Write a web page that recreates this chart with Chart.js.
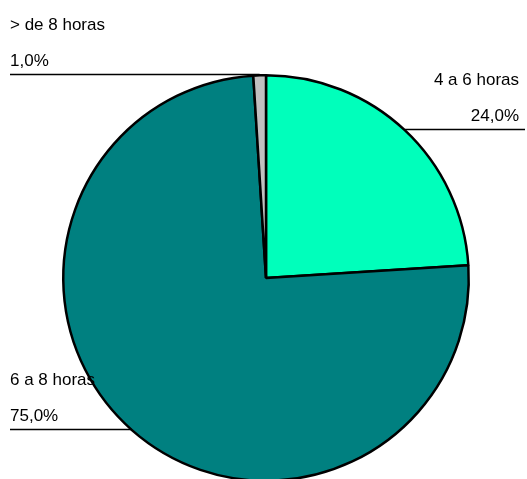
<!DOCTYPE html>
<html>
<head>
<meta charset="utf-8">
<script src="https://cdn.jsdelivr.net/npm/chart.js@4.4.1/dist/chart.umd.min.js"></script>
<style>
html,body{margin:0;padding:0;overflow:hidden;background:#fff;}
#wrap{width:527px;height:479px;overflow:hidden;}
</style>
</head>
<body>
<div id="wrap"><canvas id="c" width="527" height="490"></canvas></div>
<script>
const categories = ['4 a 6 horas', '6 a 8 horas', '> de 8 horas'];
const values = [24.0, 75.0, 1.0];
const valueLabels = ['24,0%', '75,0%', '1,0%'];
const colors = ['#00FFBB', '#008080', '#C0C0C0'];

const leaderLabels = {
  id: 'leaderLabels',
  afterDatasetsDraw(chart) {
    const ctx = chart.ctx;
    const meta = chart.getDatasetMeta(0);
    const W = chart.width;
    ctx.save();
    ctx.font = '17px "Liberation Sans", Arial, sans-serif';
    ctx.fillStyle = '#000';
    ctx.strokeStyle = '#000';
    ctx.lineWidth = 1.6;
    meta.data.forEach((arc, i) => {
      const mid = (arc.startAngle + arc.endAngle) / 2;
      const r = arc.outerRadius;
      const px = arc.x + r * Math.cos(mid);
      const py = Math.round(arc.y + r * Math.sin(mid)) - 0.5;
      const right = Math.cos(mid) >= 0;
      ctx.beginPath();
      if (right) { ctx.moveTo(px, py); ctx.lineTo(W - 2, py); }
      else { ctx.moveTo(10, py); ctx.lineTo(px, py); }
      ctx.stroke();
      ctx.textBaseline = 'alphabetic';
      ctx.textAlign = right ? 'right' : 'left';
      const tx = right ? W - 8 : 10;
      ctx.fillText(categories[i], tx, py - 45);
      ctx.fillText(valueLabels[i], tx, py - 9);
    });
    ctx.restore();
  }
};

new Chart(document.getElementById('c'), {
  type: 'pie',
  data: {
    labels: categories,
    datasets: [{
      data: values,
      backgroundColor: colors,
      borderColor: '#000',
      borderWidth: 2.5
    }]
  },
  options: {
    responsive: false,
    animation: false,
    layout: { padding: { left: 62, right: 57, top: 74, bottom: 8 } },
    plugins: { legend: { display: false }, tooltip: { enabled: false } }
  },
  plugins: [leaderLabels]
});
</script>
</body>
</html>
